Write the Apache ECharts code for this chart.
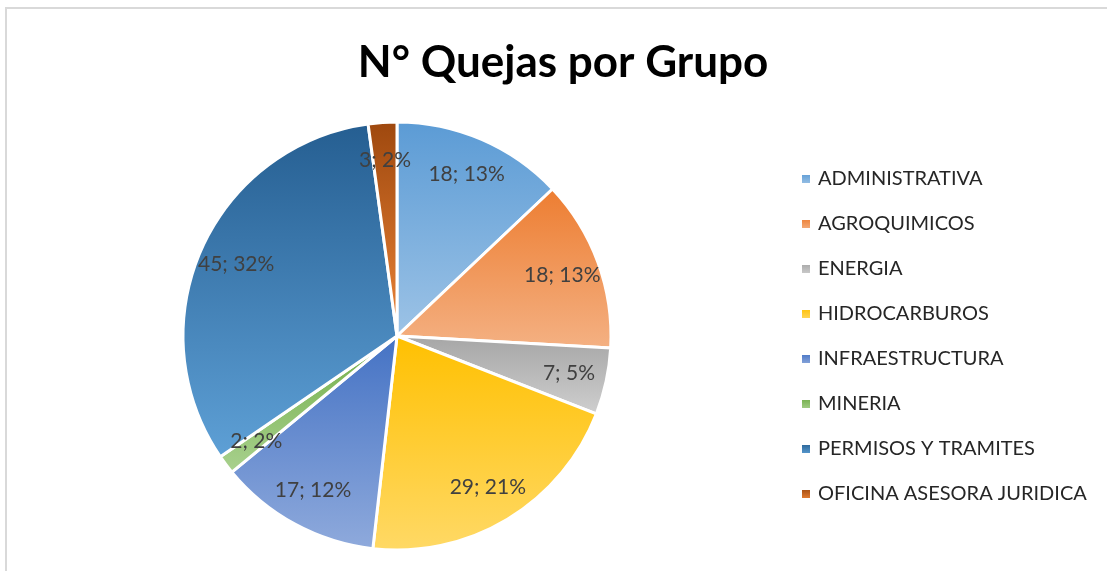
<!DOCTYPE html>
<html>
<head>
<meta charset="utf-8">
<script src="https://cdn.jsdelivr.net/npm/echarts@6/dist/echarts.min.js"></script>
<style>
  html, body { margin: 0; padding: 0; background: #fff; }
  #chartDiv { width: 1107px; height: 571px; }
</style>
</head>
<body>
<div id="chartDiv"></div>
<script>
var myChart = echarts.init(document.getElementById('chartDiv'));

var groups = ['ADMINISTRATIVA', 'AGROQUIMICOS', 'ENERGIA', 'HIDROCARBUROS',
    'INFRAESTRUCTURA', 'MINERIA', 'PERMISOS Y TRAMITES', 'OFICINA ASESORA JURIDICA'];
var quejas = [18, 18, 7, 29, 17, 2, 45, 3];
// top colour / bottom colour of each slice's gradient
var topColors = ['#5B9BD5', '#ED7D31', '#A5A5A5', '#FFC000', '#4472C4', '#70AD47', '#255E91', '#9E480E'];
var bottomColors = ['#9DC3E6', '#F4B183', '#CFCFCF', '#FFD966', '#8FAADC', '#A9D18E', '#5EA0D6', '#EC8438'];

var font = 'Lato, "Open Sans", sans-serif';

var sliceData = groups.map(function (name, i) {
    return {
        name: name,
        value: quejas[i],
        itemStyle: {
            color: new echarts.graphic.LinearGradient(0, 0, 0, 1, [
                {offset: 0, color: topColors[i]},
                {offset: 1, color: bottomColors[i]}
            ])
        }
    };
});

var labelData = groups.map(function (name, i) {
    return {name: name, value: quejas[i]};
});

option = {
    backgroundColor: '#fff',
    animation: false,
    graphic: [{
        type: 'rect',
        shape: {x: 6, y: 8, width: 1300, height: 800},
        style: {fill: 'none', stroke: '#d9d9d9', lineWidth: 2},
        silent: true
    }],
    title: {
        text: 'N° Quejas por Grupo',
        left: 558,
        top: 36,
        textAlign: 'center',
        textStyle: {fontFamily: font, fontSize: 44, fontWeight: 'bold', color: '#000'}
    },
    legend: {
        orient: 'vertical',
        left: 795,
        top: 164,
        data: groups,
        icon: 'rect',
        itemWidth: 10,
        itemHeight: 10,
        itemGap: 25,
        selectedMode: false,
        textStyle: {fontFamily: font, fontSize: 20, lineHeight: 20, color: '#262626', padding: [0, 0, 0, 2]}
    },
    series: [
        {
            name: 'Quejas',
            type: 'pie',
            center: [397, 336],
            radius: [0, 214],
            startAngle: 90,
            label: {show: false},
            labelLine: {show: false},
            itemStyle: {borderColor: '#fff', borderWidth: 3},
            emphasis: {disabled: true},
            data: sliceData
        },
        {
            name: 'Etiquetas',
            type: 'pie',
            center: [397, 336],
            radius: [132, 214],
            startAngle: 90,
            silent: true,
            percentPrecision: 0,
            itemStyle: {color: 'rgba(0,0,0,0)'},
            label: {
                show: true,
                position: 'inside',
                formatter: '{c}; {d}%',
                fontFamily: font,
                fontSize: 21,
                color: '#404040'
            },
            labelLine: {show: false},
            emphasis: {disabled: true},
            data: labelData
        }
    ]
};
myChart.setOption(option);
</script>
</body>
</html>
